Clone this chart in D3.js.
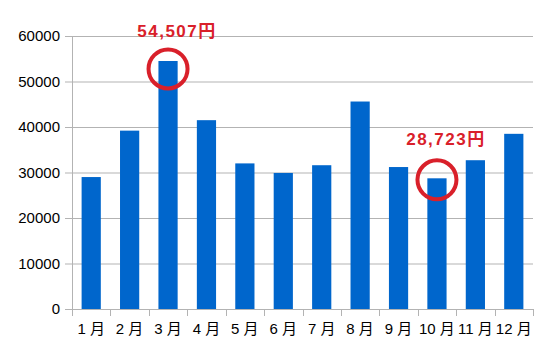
<!DOCTYPE html>
<html>
<head>
<meta charset="utf-8">
<script src="https://cdn.jsdelivr.net/npm/d3@7"></script>
<style>
  body { margin: 0; background: #fff; }
  text { font-family: "Liberation Sans", Arial, "Noto Sans CJK JP", sans-serif; }
</style>
</head>
<body>
<div id="chart-area"></div>
<script>
// monthly values
var months = ["1月", "2月", "3月", "4月", "5月", "6月", "7月", "8月", "9月", "10月", "11月", "12月"];
var values = [29000, 39200, 54507, 41500, 32000, 29900, 31600, 45600, 31200, 28723, 32700, 38500];
var yTicks = [0, 10000, 20000, 30000, 40000, 50000, 60000];
var noteMonths = ["3月", "10月"];
var noteLabels = ["54,507円", "28,723円"];

var margin = { left: 72, right: 17, top: 36, bottom: 52 },
    width = 550 - margin.left - margin.right,
    height = 361 - margin.top - margin.bottom;

var svg = d3.select("#chart-area").append("svg")
    .attr("width", 550)
    .attr("height", 361);
var g = svg.append("g")
    .attr("transform", "translate(" + margin.left + "," + margin.top + ")");

var x = d3.scaleBand().domain(months).range([0, width]).paddingInner(0.5).paddingOuter(0.25);
var y = d3.scaleLinear().domain([0, 60000]).range([height, 0]);

// gridlines
g.selectAll(".grid")
    .data(yTicks)
    .enter().append("line")
    .attr("x1", -7)
    .attr("x2", width)
    .attr("y1", d => y(d) + 0.5)
    .attr("y2", d => y(d) + 0.5)
    .attr("stroke", "#b3b3b3")
    .attr("stroke-width", 1);

// y labels
g.selectAll(".ylab")
    .data(yTicks)
    .enter().append("text")
    .attr("x", -12)
    .attr("y", d => y(d))
    .attr("dy", "0.35em")
    .attr("text-anchor", "end")
    .attr("font-size", "15px")
    .attr("fill", "#000")
    .text(d => d);

// bars
g.selectAll(".bar")
    .data(values)
    .enter().append("rect")
    .attr("x", (d, i) => x(months[i]))
    .attr("y", d => y(d))
    .attr("width", x.bandwidth())
    .attr("height", d => height - y(d))
    .attr("fill", "#0066cc");

// axes lines
g.append("line")
    .attr("x1", 0.5).attr("x2", 0.5)
    .attr("y1", 0).attr("y2", height + 7)
    .attr("stroke", "#b3b3b3");
g.append("line")
    .attr("x1", 0).attr("x2", width)
    .attr("y1", height + 0.5).attr("y2", height + 0.5)
    .attr("stroke", "#b3b3b3");

// category ticks at band edges
var step = x.step();
g.selectAll(".xtick")
    .data(d3.range(months.length + 1))
    .enter().append("line")
    .attr("x1", d => Math.round(d * step) + 0.5)
    .attr("x2", d => Math.round(d * step) + 0.5)
    .attr("y1", height)
    .attr("y2", height + 7)
    .attr("stroke", "#b3b3b3");

// x labels
g.selectAll(".xlab")
    .data(months)
    .enter().append("text")
    .attr("x", d => x(d) + x.bandwidth() / 2)
    .attr("y", height + 25)
    .attr("text-anchor", "middle")
    .attr("font-size", "15px")
    .attr("fill", "#000")
    .text(d => d.replace("月", " 月"));

// annotations: red circle around the bar top plus the amount above it
var circleDy = [8, 1.5],
    labelDy = [-32, -35];
noteMonths.forEach(function(m, k) {
    var i = months.indexOf(m);
    var cx = x(m) + x.bandwidth() / 2,
        cy = y(values[i]) + circleDy[k];
    g.append("circle")
        .attr("cx", cx)
        .attr("cy", cy)
        .attr("r", 19.5)
        .attr("fill", "none")
        .attr("stroke", "#d9202a")
        .attr("stroke-width", 4);
    g.append("text")
        .attr("x", cx + 9)
        .attr("y", cy + labelDy[k])
        .attr("text-anchor", "middle")
        .attr("font-family", "'Open Sans', 'Noto Sans CJK JP', sans-serif")
        .attr("font-size", "17px")
        .attr("font-weight", "bold")
        .attr("letter-spacing", "1.5px")
        .attr("fill", "#d9202a")
        .text(noteLabels[k]);
});
</script>
</body>
</html>
